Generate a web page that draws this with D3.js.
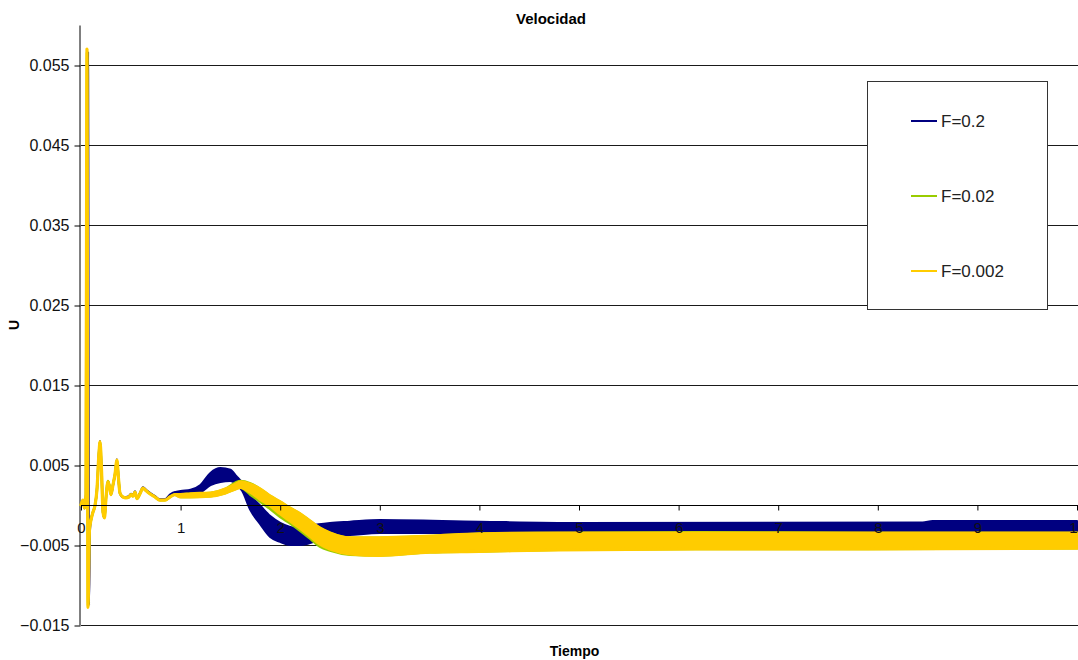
<!DOCTYPE html>
<html>
<head>
<meta charset="utf-8">
<script src="https://cdn.jsdelivr.net/npm/d3@7/dist/d3.min.js"></script>
<style>
  html, body { margin: 0; padding: 0; background: #fff; }
  svg { display: block; font-family: "Liberation Sans", Arial, sans-serif; }
</style>
</head>
<body>
<svg id="chart" width="1078" height="660"></svg>
<script>
// ---- data -------------------------------------------------------------
// Start-up transient (single trace) and the later oscillating envelope.
// Each series: time, upper envelope, lower envelope (equal where the trace is a single line).
const yellowT  = [0,0.02,0.035,0.05,0.06,0.07,0.085,0.10,0.12,0.14,0.16,0.181,0.191,0.206,0.221,0.236,0.251,0.271,0.286,0.301,0.321,0.341,0.361,0.376,0.391,0.421,0.451,0.481,0.502,0.522,0.542,0.562,0.592,0.622,0.652,0.692,0.742,0.792,0.843,0.893,0.943,
                  1.0,1.1,1.3,1.45,1.55,1.6,1.7,1.8,1.9,2.0,2.1,2.2,2.3,2.4,2.5,2.7,3.0,3.5,4.0,4.8,6.2,7.9,10];
const yellowHi = [0,0.0006,-0.0004,0.0013,0.0570,-0.0128,-0.0031,-0.0019,-0.0009,-0.0001,0.0019,0.0066,0.0079,0.0044,-0.0009,-0.0016,0.0009,0.0029,0.0023,0.0013,0.0025,0.0038,0.0056,0.0034,0.0015,0.0010,0.0009,0.0010,0.0013,0.0011,0.0016,0.0008,0.0014,0.0021,0.0018,0.0014,0.0010,0.0006,0.0006,0.0010,0.0013,
                  0.0013,0.0014,0.0015,0.0020,0.0026,0.0029,0.0026,0.0020,0.0011,0.0004,-0.0004,-0.0011,-0.0020,-0.0029,-0.0035,-0.0041,-0.0041,-0.0039,-0.0036,-0.0035,-0.0035,-0.0035,-0.0035];
const yellowLo = [0,0.0006,-0.0004,0.0013,0.0570,-0.0128,-0.0031,-0.0019,-0.0009,-0.0001,0.0019,0.0066,0.0079,0.0044,-0.0009,-0.0016,0.0009,0.0029,0.0023,0.0013,0.0025,0.0038,0.0056,0.0034,0.0015,0.0010,0.0009,0.0010,0.0013,0.0011,0.0016,0.0008,0.0014,0.0021,0.0018,0.0014,0.0010,0.0006,0.0006,0.0010,0.0013,
                  0.0010,0.0010,0.0011,0.0015,0.0020,0.0022,0.0016,0.0007,-0.0001,-0.0011,-0.0020,-0.0029,-0.0039,-0.0049,-0.0055,-0.0061,-0.0063,-0.0059,-0.0058,-0.0056,-0.0055,-0.0055,-0.0054];

const greenT  = yellowT;
const greenHi = [0,0.0006,-0.0004,0.0013,0.0565,-0.0126,-0.0031,-0.0019,-0.0009,-0.0001,0.0019,0.0066,0.0079,0.0044,-0.0009,-0.0016,0.0009,0.0030,0.0023,0.0013,0.0025,0.0038,0.0055,0.0034,0.0015,0.0010,0.0009,0.0010,0.0013,0.0011,0.0016,0.0008,0.0014,0.0021,0.0018,0.0014,0.0010,0.0006,0.0006,0.0010,0.0013,
                 0.0013,0.0014,0.0015,0.0020,0.0028,0.0030,0.0027,0.0020,0.0011,0.0004,-0.0004,-0.0011,-0.0020,-0.0029,-0.0035,-0.0041,-0.0041,-0.0039,-0.0036,-0.0035,-0.0034,-0.0035,-0.0035];
const greenLo = [0,0.0006,-0.0004,0.0013,0.0565,-0.0126,-0.0031,-0.0019,-0.0009,-0.0001,0.0019,0.0066,0.0079,0.0044,-0.0009,-0.0016,0.0009,0.0030,0.0023,0.0013,0.0025,0.0038,0.0055,0.0034,0.0015,0.0010,0.0009,0.0010,0.0013,0.0011,0.0016,0.0008,0.0014,0.0021,0.0018,0.0014,0.0010,0.0006,0.0006,0.0010,0.0013,
                 0.0010,0.0010,0.0011,0.0015,0.0020,0.0022,0.0013,0.0004,-0.0005,-0.0015,-0.0023,-0.0032,-0.0042,-0.0052,-0.0057,-0.0062,-0.0063,-0.0059,-0.0058,-0.0056,-0.0055,-0.0055,-0.0054];

const blueT  = [0,0.02,0.035,0.05,0.07,0.08,0.09,0.10,0.12,0.14,0.16,0.181,0.191,0.206,0.221,0.236,0.251,0.271,0.286,0.301,0.321,0.341,0.361,0.376,0.391,0.421,0.451,0.481,0.502,0.522,0.542,0.562,0.592,0.622,0.652,0.692,0.742,0.792,0.843,0.893,0.943,
                1.0,1.1,1.2,1.3,1.4,1.5,1.56,1.62,1.7,1.8,1.9,2.0,2.1,2.2,2.3,2.5,2.7,3.0,4.0,5.0,8.45,8.55,10];
const blueHi = [0,0.0006,-0.0004,0.0013,0.0566,-0.0125,-0.0030,-0.0019,-0.0009,-0.0001,0.0019,0.0066,0.0080,0.0044,-0.0010,-0.0016,0.0009,0.0030,0.0023,0.0013,0.0025,0.0038,0.0057,0.0034,0.0015,0.0010,0.0010,0.0011,0.0014,0.0012,0.0017,0.0009,0.0015,0.0022,0.0019,0.0015,0.0011,0.0007,0.0007,0.0013,0.0016,
                0.00175,0.0019,0.0025,0.0040,0.0046,0.0044,0.0036,0.00275,0.00125,-0.0001,-0.0014,-0.00225,-0.00275,-0.0029,-0.0026,-0.00225,-0.0021,-0.0019,-0.0021,-0.00225,-0.0022,-0.0020,-0.0020];
const blueLo = [0,0.0006,-0.0004,0.0013,0.0566,-0.0125,-0.0030,-0.0019,-0.0009,-0.0001,0.0019,0.0066,0.0080,0.0044,-0.0010,-0.0016,0.0009,0.0030,0.0023,0.0013,0.0025,0.0038,0.0057,0.0034,0.0015,0.0010,0.0010,0.0011,0.0014,0.0012,0.0017,0.0009,0.0015,0.0022,0.0019,0.0015,0.0011,0.0007,0.0007,0.0013,0.0016,
                0.00125,0.00125,0.0016,0.0025,0.0029,0.0030,0.0026,0.00175,-0.0006,-0.0024,-0.0040,-0.0046,-0.0050,-0.0050,-0.00475,-0.0039,-0.00375,-0.0035,-0.0035,-0.0035,-0.0034,-0.0034,-0.0034];

const seriesNames  = ["F=0.2", "F=0.02", "F=0.002"];
const seriesColors = ["#000080", "#99cc00", "#ffcc00"];

const xTicks = [0,1,2,3,4,5,6,7,8,9,10];
const yTicks = [-0.015,-0.005,0.005,0.015,0.025,0.035,0.045,0.055];

// ---- layout -----------------------------------------------------------
const svg = d3.select("#chart");
const plot = { left: 81, right: 1078, top: 25, bottom: 625 };

const x = d3.scaleLinear().domain([0, 10]).range([plot.left, plot.right - 1]);
const y = d3.scaleLinear().domain([-0.015, 0.06]).range([plot.bottom, plot.top]);

const crisp = v => Math.round(v) + 0.5;

// horizontal gridlines
svg.append("g").selectAll("line").data(yTicks).join("line")
  .attr("x1", plot.left).attr("x2", plot.right)
  .attr("y1", d => crisp(y(d))).attr("y2", d => crisp(y(d)))
  .attr("stroke", "#1a1a1a").attr("stroke-width", 1);

// y axis
const yAxis = d3.axisLeft(y).tickValues(yTicks).tickSize(6).tickFormat(d3.format(".3f"));
const gy = svg.append("g").attr("transform", `translate(${crisp(plot.left) - 1},0.5)`).call(yAxis);
gy.select(".domain").attr("d", `M-0.5,${plot.top}V${plot.bottom}`).attr("stroke", "#000");
gy.selectAll(".tick line").attr("stroke", "#000");
gy.selectAll(".tick text")
  .attr("x", -11).attr("dy", "0.34em")
  .style("font-family", "'Liberation Sans', Arial, sans-serif")
  .style("font-size", "16px").attr("fill", "#111");

// series (drawn so that F=0.002 ends on top)
const bands = [
  { t: blueT,   hi: blueHi,   lo: blueLo,   c: seriesColors[0], w: 2.2 },
  { t: greenT,  hi: greenHi,  lo: greenLo,  c: seriesColors[1], w: 2.6 },
  { t: yellowT, hi: yellowHi, lo: yellowLo, c: seriesColors[2], w: 3.2 }
];
const area = d3.area()
  .x(d => x(d.t)).y0(d => y(d.lo)).y1(d => y(d.hi))
  .curve(d3.curveMonotoneX);

const gSeries = svg.append("g");
bands.forEach(b => {
  const pts = b.t.map((t, i) => ({ t, hi: b.hi[i], lo: b.lo[i] }));
  gSeries.append("path").datum(pts)
    .attr("d", area)
    .attr("fill", b.c)
    .attr("stroke", b.c)
    .attr("stroke-width", b.w)
    .attr("stroke-linejoin", "round");
});

// x axis along U = 0
const xAxis = d3.axisBottom(x).tickValues(xTicks).tickSize(5).tickFormat(d3.format("d"));
const gx = svg.append("g").attr("transform", `translate(0,${crisp(y(0))})`).call(xAxis);
gx.select(".domain").attr("d", `M${plot.left},0H${plot.right}`).attr("stroke", "#000");
gx.selectAll(".tick line").attr("stroke", "#000");
gx.selectAll(".tick text")
  .attr("y", 17).attr("dy", "0.71em")
  .style("font-family", "'Liberation Sans', Arial, sans-serif")
  .style("font-size", "15px").attr("fill", "#111");

// titles
svg.append("text").attr("x", 551).attr("y", 24)
  .attr("text-anchor", "middle").attr("font-weight", "bold").attr("font-size", 15)
  .attr("fill", "#000").text("Velocidad");
svg.append("text").attr("x", (plot.left + plot.right) / 2 - 5).attr("y", 656)
  .attr("text-anchor", "middle").attr("font-weight", "bold").attr("font-size", 14)
  .attr("fill", "#000").text("Tiempo");
svg.append("text").attr("transform", "translate(19,325) rotate(-90)")
  .attr("text-anchor", "middle").attr("font-weight", "bold").attr("font-size", 14)
  .attr("fill", "#000").text("U");

// legend
const lg = svg.append("g");
lg.append("rect").attr("x", 867.5).attr("y", 81.5).attr("width", 180).attr("height", 228)
  .attr("fill", "#fff").attr("stroke", "#333").attr("stroke-width", 1);
const legendY = d3.scalePoint().domain(seriesNames).range([121, 271]);
seriesNames.forEach((name, i) => {
  const cy = legendY(name);
  lg.append("line").attr("x1", 911).attr("x2", 937).attr("y1", cy).attr("y2", cy)
    .attr("stroke", seriesColors[i]).attr("stroke-width", 2);
  lg.append("text").attr("x", 941).attr("y", cy).attr("dy", "0.36em")
    .attr("font-size", 17).attr("fill", "#222").text(name);
});
</script>
</body>
</html>
